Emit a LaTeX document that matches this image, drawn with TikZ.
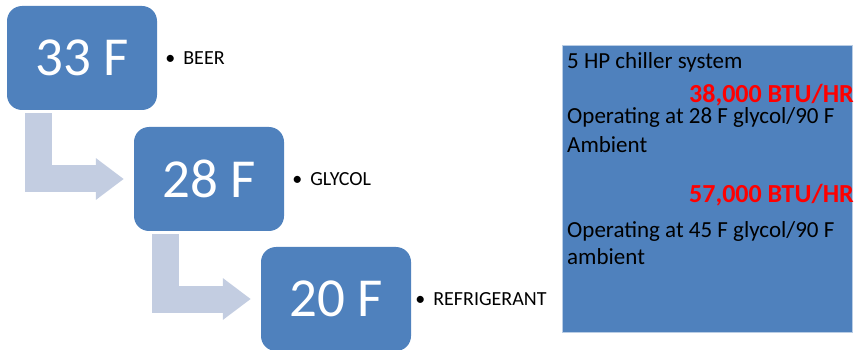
\documentclass[tikz,border=0pt]{standalone}
\usepackage{fontspec}
\setmainfont{Carlito}
\usetikzlibrary{positioning,arrows.meta,calc}
\definecolor{boxblue}{HTML}{4F81BD}
\definecolor{arrowblue}{HTML}{C3CDE1}
\definecolor{btured}{HTML}{FF0000}
\tikzset{
  tempbox/.style={fill=boxblue, rounded corners=15pt, minimum width=150pt, minimum height=104pt, inner sep=0pt, text=white, font=\fontsize{55}{60}\selectfont},
  flowarrow/.style={draw=arrowblue, line width=27pt, line join=miter, -{Triangle[length=28pt,width=40pt]}},
  bulletlabel/.style={inner sep=0pt, font=\fontsize{20}{24}\selectfont},
  chillerpanel/.style={fill=boxblue, draw=boxblue!40, line width=1pt, minimum width=290pt, minimum height=286pt, inner sep=0pt},
  paneltext/.style={anchor=base west, inner sep=0pt, font=\fontsize{23}{27.6}\selectfont},
  btutext/.style={anchor=base west, inner sep=0pt, text=btured, font=\fontsize{26}{30}\selectfont\bfseries}
}
\begin{document}
\begin{tikzpicture}[x=1pt,y=-1pt]
        \useasboundingbox (0,0) rectangle (855,350);
        \node[tempbox] (t33) at (82,58) {33 F};
        \node[tempbox] (t28) at (209,179) {28 F};
        \node[tempbox] (t20) at (336,299) {20 F};
        \foreach \a/\b in {t33/t28,t28/t20}
            \draw[flowarrow] ($(\a.south west)+(31.5,3)$) |- ($(\b.west)+(-10,0)$);
        \node[bulletlabel, right=8pt of t33] (beer) {\textbullet\hspace{8pt}BEER};
        \node[bulletlabel, right=8pt of t28] (glycol) {\textbullet\hspace{8pt}GLYCOL};
        \node[bulletlabel, right=4pt of t20] (refrigerant) {\textbullet\hspace{8pt}REFRIGERANT};
        \node[chillerpanel] (panel) at (707,189) {};
        \node[paneltext] (system) at (567,69) {5 HP chiller system};
        \node[btutext] (btu38) at (689,103) {38,000 BTU/HR};
        \node[paneltext] (op28) at (567,124) {Operating at 28 F glycol/90 F};
        \node[paneltext] (amb28) at (567,153) {Ambient};
        \node[btutext] (btu57) at (689,203) {57,000 BTU/HR};
        \node[paneltext] (op45) at (567,237) {Operating at 45 F glycol/90 F};
        \node[paneltext] (amb45) at (567,265) {ambient};
    \end{tikzpicture}
\end{document}
